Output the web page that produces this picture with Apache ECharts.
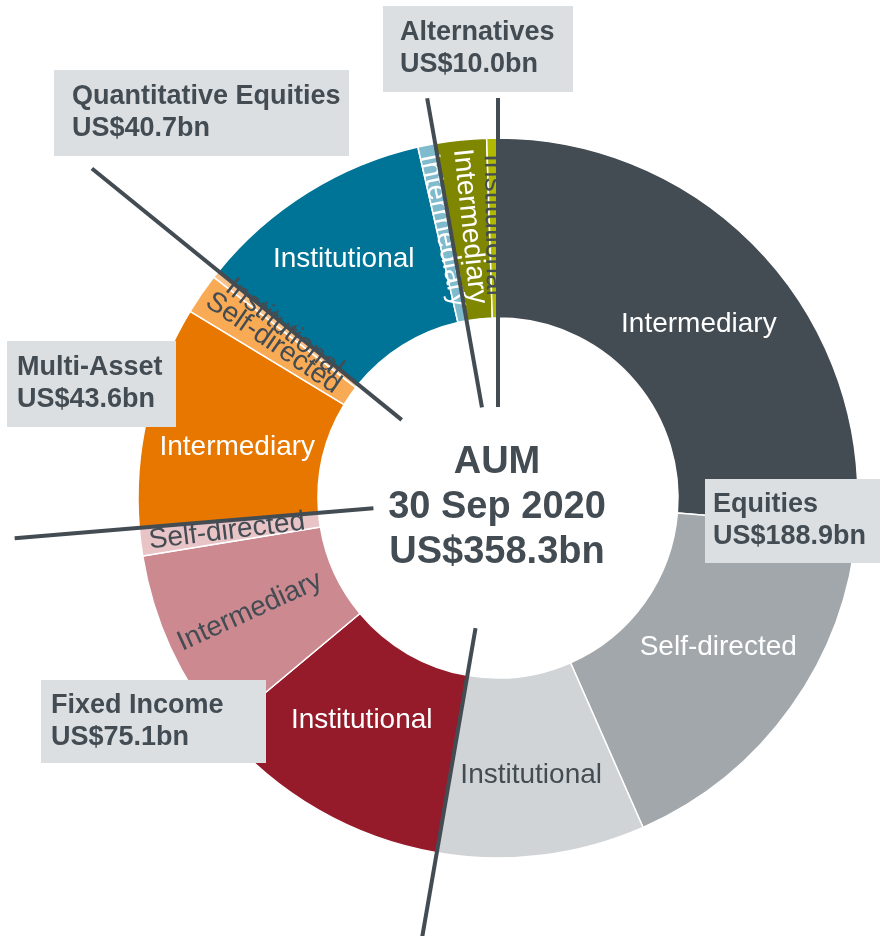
<!DOCTYPE html>
<html>
<head>
<meta charset="utf-8">
<script src="https://cdn.jsdelivr.net/npm/echarts@6/dist/echarts.min.js"></script>
<style>
html, body { margin: 0; padding: 0; background: #fff; }
#chart { width: 880px; height: 936px; }
</style>
</head>
<body>
<div id="chart"></div>
<script>
// AUM by capability, then by channel (clockwise from 12 o'clock)
const groups = ['Equities', 'Fixed Income', 'Multi-Asset', 'Quantitative Equities', 'Alternatives']
const groupTotals = [188.9, 75.1, 43.6, 40.7, 10.0]
const channelNames = [
  ['Intermediary', 'Self-directed', 'Institutional'],
  ['Institutional', 'Intermediary', 'Self-directed'],
  ['Intermediary', 'Self-directed', 'Institutional'],
  ['Institutional', 'Intermediary'],
  ['Intermediary', 'Institutional'],
]
const channelValues = [
  [94.3, 61.2, 33.4],
  [40.1, 30.5, 4.5],
  [35.8, 6.6, 1.2],
  [37.9, 2.8],
  [8.2, 1.8],
]
const aumTotal = 358.3
const aumDate = '30 Sep 2020'

const FONT = 'Liberation Sans, Arial, sans-serif'
const DARK = '#434c53'
const cx = 498
const cy = 498

const sliceColors = [
  ['#434c53', '#a2a7ab', '#d1d4d6'],
  ['#951a2a', '#cc8a90', '#e8c4c7'],
  ['#e87700', '#f9aa55', '#f9c28a'],
  ['#007496', '#7fbacd'],
  ['#7f8700', '#b0b800'],
]
const labelColors = [
  ['#fff', '#fff', DARK],
  ['#fff', DARK, DARK],
  ['#fff', DARK, DARK],
  ['#fff', '#fff'],
  ['#fff', DARK],
]
const radialLabel = [
  [false, false, false],
  [false, true, true],
  [false, true, true],
  [false, true],
  [true, true],
]
// small nudges of the in-slice labels
const labelNudge = [
  [[0, 11], [-2, -9], [0, 6]],
  [[0, -14], [0, 0], [0, 0]],
  [[5, 12], [0, 0], [0, 0]],
  [[-10, -7], [0, 0]],
  [[0, 0], [0, 0]],
]
// divider line at the start of each group: [inner r, outer r]
const dividerRadius = [[91, 400], [132, 450], [125, 485], [124, 523], [92, 406]]
// callout boxes: [x, y, w, h, text x]
const boxes = [
  [705, 479, 180, 84, 713],
  [41, 680, 225, 83, 51],
  [7, 341, 169, 86, 17],
  [54, 70, 295, 86, 72],
  [383, 6, 190, 86, 400],
]

const pieData = []
channelValues.forEach((vals, g) => {
  vals.forEach((v, i) => {
    pieData.push({
      name: channelNames[g][i],
      value: v,
      itemStyle: { color: sliceColors[g][i] },
      label: {
        color: labelColors[g][i],
        rotate: radialLabel[g][i] ? 'radial' : 0,
        offset: labelNudge[g][i],
      },
    })
  })
})

const graphics = []
let cum = 0
groupTotals.forEach((t, g) => {
  const a = cum / aumTotal * Math.PI * 2
  const [r1, r2] = dividerRadius[g]
  graphics.push({
    type: 'line',
    z: 100,
    shape: {
      x1: cx + r1 * Math.sin(a), y1: cy - r1 * Math.cos(a),
      x2: cx + r2 * Math.sin(a), y2: cy - r2 * Math.cos(a),
    },
    style: { stroke: DARK, lineWidth: 4 },
  })
  cum += channelValues[g].reduce((s, v) => s + v, 0)

  const [bx, by, bw, bh, tx] = boxes[g]
  graphics.push({
    type: 'rect',
    z: 110,
    shape: { x: bx, y: by, width: bw, height: bh },
    style: { fill: '#dcdfe2' },
  })
  graphics.push({
    type: 'text',
    z: 111,
    x: tx,
    y: by + bh / 2,
    style: {
      text: groups[g] + '\nUS$' + t.toFixed(1) + 'bn',
      fill: DARK,
      font: 'bold 27px ' + FONT,
      lineHeight: 32,
      textAlign: 'left',
      textVerticalAlign: 'middle',
    },
  })
})

graphics.push({
  type: 'text',
  z: 100,
  x: 497,
  y: 508,
  style: {
    text: 'AUM\n' + aumDate + '\nUS$' + aumTotal.toFixed(1) + 'bn',
    fill: DARK,
    font: 'bold 38px ' + FONT,
    lineHeight: 45,
    textAlign: 'center',
    textVerticalAlign: 'middle',
  },
})

const option = {
  animation: false,
  backgroundColor: '#fff',
  series: [{
    type: 'pie',
    center: [cx, cy],
    radius: [180, 360],
    startAngle: 90,
    clockwise: true,
    avoidLabelOverlap: false,
    silent: true,
    itemStyle: { borderColor: '#fff', borderWidth: 1.5 },
    label: {
      show: true,
      position: 'inside',
      fontSize: 28,
      fontFamily: FONT,
    },
    labelLayout: { hideOverlap: false },
    labelLine: { show: false },
    emphasis: { disabled: true },
    data: pieData,
  }],
  graphic: graphics,
}

const myChart = echarts.init(document.getElementById('chart'))
myChart.setOption(option)
</script>
</body>
</html>
